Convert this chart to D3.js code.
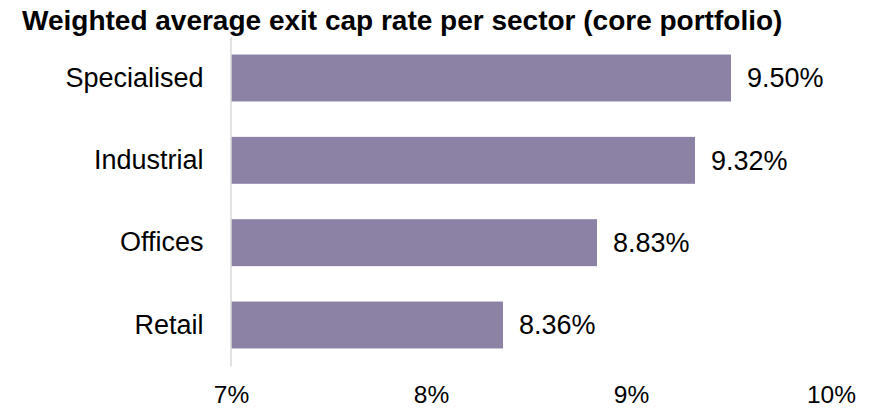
<!DOCTYPE html>
<html>
<head>
<meta charset="utf-8">
<script src="https://cdn.jsdelivr.net/npm/d3@7"></script>
<style>
  html, body { margin: 0; padding: 0; background: #ffffff; }
  svg { display: block; }
  text { font-family: "Liberation Sans", Arial, sans-serif; fill: #000000; }
</style>
</head>
<body>
<svg id="chart" width="873" height="408"></svg>
<script>
// Sector exit cap rates, core portfolio (%)
const sectors = ["Specialised", "Industrial", "Offices", "Retail"];
const capRates = [9.50, 9.32, 8.83, 8.36];
const tickValues = [7, 8, 9, 10];
const titleText = "Weighted average exit cap rate per sector (core portfolio)";

const svg = d3.select("#chart");
const barColor = "#8c82a6";

const x = d3.scaleLinear().domain([7, 10]).range([231, 831]);
const y = d3.scaleBand()
  .domain(sectors)
  .range([37, 366])
  .paddingInner(0.43)
  .paddingOuter(0.213);

// Title
svg.append("text")
  .attr("x", 22)
  .attr("y", 30)
  .attr("font-size", 28)
  .attr("font-weight", "bold")
  .text(titleText);

// Bars
svg.append("g")
  .selectAll("rect")
  .data(sectors)
  .join("rect")
  .attr("x", x(7))
  .attr("y", d => y(d))
  .attr("width", (d, i) => x(capRates[i]) - x(7))
  .attr("height", y.bandwidth())
  .attr("fill", barColor);

// Value labels
svg.append("g")
  .selectAll("text")
  .data(sectors)
  .join("text")
  .attr("x", (d, i) => x(capRates[i]) + 16)
  .attr("y", d => y(d) + y.bandwidth() / 2)
  .attr("dy", "0.35em")
  .attr("font-size", 27)
  .text((d, i) => capRates[i].toFixed(2) + "%");

// Category axis (left)
const yAxis = svg.append("g")
  .attr("transform", `translate(${x(7) - 0.5},0)`)
  .call(d3.axisLeft(y).tickSize(0).tickPadding(27));
yAxis.select(".domain").attr("stroke", "#d9d9d9").attr("stroke-width", 1.5);
yAxis.selectAll("text")
  .attr("font-size", 27)
  .attr("font-family", "Liberation Sans, Arial, sans-serif")
  .attr("fill", "#000");

// Value axis (bottom), labels only
const xAxis = svg.append("g")
  .attr("transform", "translate(0,366)")
  .call(d3.axisBottom(x).tickValues(tickValues).tickSize(0).tickPadding(19.5)
    .tickFormat(d => d + "%"));
xAxis.select(".domain").remove();
xAxis.selectAll("text")
  .attr("font-size", 24.5)
  .attr("font-family", "Liberation Sans, Arial, sans-serif")
  .attr("fill", "#000");
</script>
</body>
</html>
